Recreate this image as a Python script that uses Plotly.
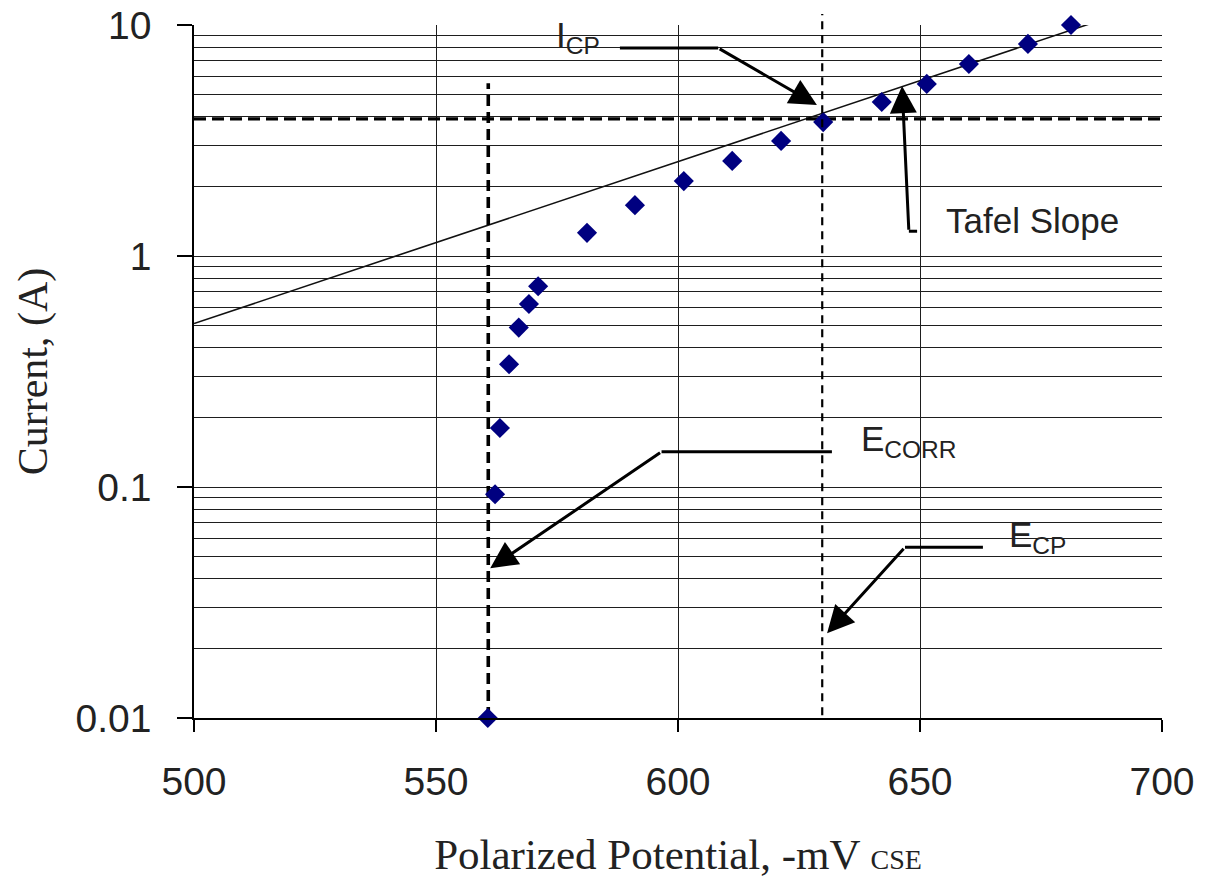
import numpy as np
import plotly.graph_objects as go

# ---- data ----
potential_mv = [560.7, 562.2, 563.2, 565.1, 567.1, 569.2, 571.1, 581.2, 591.1,
                601.2, 611.2, 621.3, 630.0, 642.1, 651.4, 660.1, 672.3, 681.2]
current_a = [0.01, 0.093, 0.18, 0.34, 0.49, 0.62, 0.74, 1.26, 1.66,
             2.11, 2.58, 3.15, 3.80, 4.64, 5.56, 6.78, 8.28, 10.0]

tafel_x = [500, 689.7]
tafel_i = [0.51, 10.9]

e_corr = 560.8
e_corr_span = [0.01, 5.6]
e_cp = 629.8
i_cp = 3.92

x_ticks = [500, 550, 600, 650, 700]
y_ticks = [0.01, 0.1, 1, 10]
y_tick_text = ["0.01", "0.1", "1", "10"]

# annotation leaders (data units)
icp_leader_x = [588.0, 608.3]
icp_leader_i = [7.95, 7.95]
icp_tip = (628.7, 4.5)
tafel_foot_x = [649.4, 647.7]
tafel_foot_i = [1.28, 1.28]
tafel_tip = (646.3, 5.44)
ecorr_leader_x = [631.8, 596.6]
ecorr_leader_i = [0.142, 0.142]
ecorr_tip = (561.2, 0.0445)
ecp_leader_x = [663.0, 646.9]
ecp_leader_i = [0.0549, 0.0549]
ecp_tip = (630.8, 0.0233)

GRID = "#1e1e1e"
SANS = "Liberation Sans, Arial, sans-serif"
SERIF = "Liberation Serif, Times New Roman, serif"

fig = go.Figure()

# Tafel line
fig.add_trace(go.Scatter(x=tafel_x, y=tafel_i, mode="lines",
                         line=dict(color="#111", width=1.6), hoverinfo="skip"))
# I_CP horizontal dashed
fig.add_trace(go.Scatter(x=[x_ticks[0], x_ticks[-1]], y=[i_cp, i_cp], mode="lines",
                         line=dict(color="black", width=3.2, dash="12px,6px"), hoverinfo="skip"))
# E_CORR vertical dashed
fig.add_trace(go.Scatter(x=[e_corr, e_corr], y=e_corr_span, mode="lines",
                         line=dict(color="black", width=3.6, dash="11px,6px"), hoverinfo="skip"))

# leader segments
for lx, ly in [(icp_leader_x, icp_leader_i), (tafel_foot_x, tafel_foot_i),
               (ecorr_leader_x, ecorr_leader_i), (ecp_leader_x, ecp_leader_i)]:
    fig.add_trace(go.Scatter(x=lx, y=ly, mode="lines",
                             line=dict(color="black", width=3), hoverinfo="skip"))

# data points
fig.add_trace(go.Scatter(x=potential_mv, y=current_a, mode="markers",
                         marker=dict(symbol="diamond", size=15.5, color="#000080",
                                     line=dict(width=0)),
                         cliponaxis=False))

# E_CP vertical dashed (extends a bit above the plot)
fig.add_shape(type="line", xref="x", yref="paper", x0=e_cp, x1=e_cp, y0=0.004, y1=1.016,
              line=dict(color="black", width=2.2, dash="8px,6px"), layer="above")

# white label boxes (hide gridlines)
boxes = [(0.278, 0.4215, 0.9134, 1.007),
         (0.7655, 0.9752, 0.658, 0.7619),
         (0.6622, 0.8326, 0.3478, 0.4271),
         (0.8347, 0.9773, 0.2063, 0.2973)]
for x0, x1, y0, y1 in boxes:
    fig.add_shape(type="rect", xref="paper", yref="paper", x0=x0, x1=x1, y0=y0, y1=y1,
                  fillcolor="white", line=dict(width=0), layer="between")

# arrows
for (tx, ti), (sx, si) in [(icp_tip, (icp_leader_x[1], icp_leader_i[1])),
                           (tafel_tip, (tafel_foot_x[1], tafel_foot_i[1])),
                           (ecorr_tip, (ecorr_leader_x[1], ecorr_leader_i[1])),
                           (ecp_tip, (ecp_leader_x[1], ecp_leader_i[1]))]:
    fig.add_annotation(x=tx, y=np.log10(ti), ax=sx, ay=np.log10(si),
                       xref="x", yref="y", axref="x", ayref="y",
                       text="", showarrow=True, arrowhead=2, arrowsize=1.8,
                       arrowwidth=3, arrowcolor="black", standoff=0)

# label texts
labels = [("I<sub>CP</sub>", 0.372, 0.9827),
          ("Tafel Slope", 0.7748, 0.7186),
          ("E<sub>CORR</sub>", 0.687, 0.3997),
          ("E<sub>CP</sub>", 0.840, 0.2612)]
for t, x, y in labels:
    fig.add_annotation(text=t, x=x, y=y, xref="paper", yref="paper",
                       xanchor="left", yanchor="middle", showarrow=False,
                       font=dict(family=SANS, size=35, color="#222"))

fig.update_xaxes(range=[500, 700], tickvals=x_ticks, showgrid=True, gridcolor=GRID,
                 gridwidth=1.3, zeroline=False, showline=True, linecolor="black",
                 linewidth=1.5, ticks="outside", ticklen=12, tickwidth=1.5,
                 tickcolor="black", ticklabelstandoff=16, automargin=False,
                 ticklabeloverflow="allow",
                 tickfont=dict(family=SANS, size=39, color="#222"),
                 title=dict(text='Polarized Potential, -mV <span style="font-size:28px">CSE</span>',
                            font=dict(family=SERIF, size=43, color="#222"), standoff=38))
fig.update_yaxes(type="log", range=[-2, 1], tickvals=y_ticks, ticktext=y_tick_text,
                 showgrid=True, gridcolor=GRID, gridwidth=1.3, zeroline=False,
                 showline=True, linecolor="black", linewidth=1.5, ticks="outside",
                 ticklen=15, tickwidth=1.5, tickcolor="black", ticklabelstandoff=18,
                 automargin=False, ticklabeloverflow="allow",
                 tickfont=dict(family=SANS, size=39, color="#222"),
                 minor=dict(dtick="D1", showgrid=True, gridcolor=GRID, gridwidth=1.3, ticks=""),
                 title=dict(text="Current, (A)", font=dict(family=SERIF, size=42, color="#222")))

fig.update_layout(width=1205, height=878, autosize=False, showlegend=False,
                  plot_bgcolor="white", paper_bgcolor="white",
                  margin=dict(l=194, r=43, t=25, b=160))

fig.write_html("out.html", config={"displayModeBar": False},
               post_script="document.body.style.margin='0';document.body.style.overflow='hidden';")
